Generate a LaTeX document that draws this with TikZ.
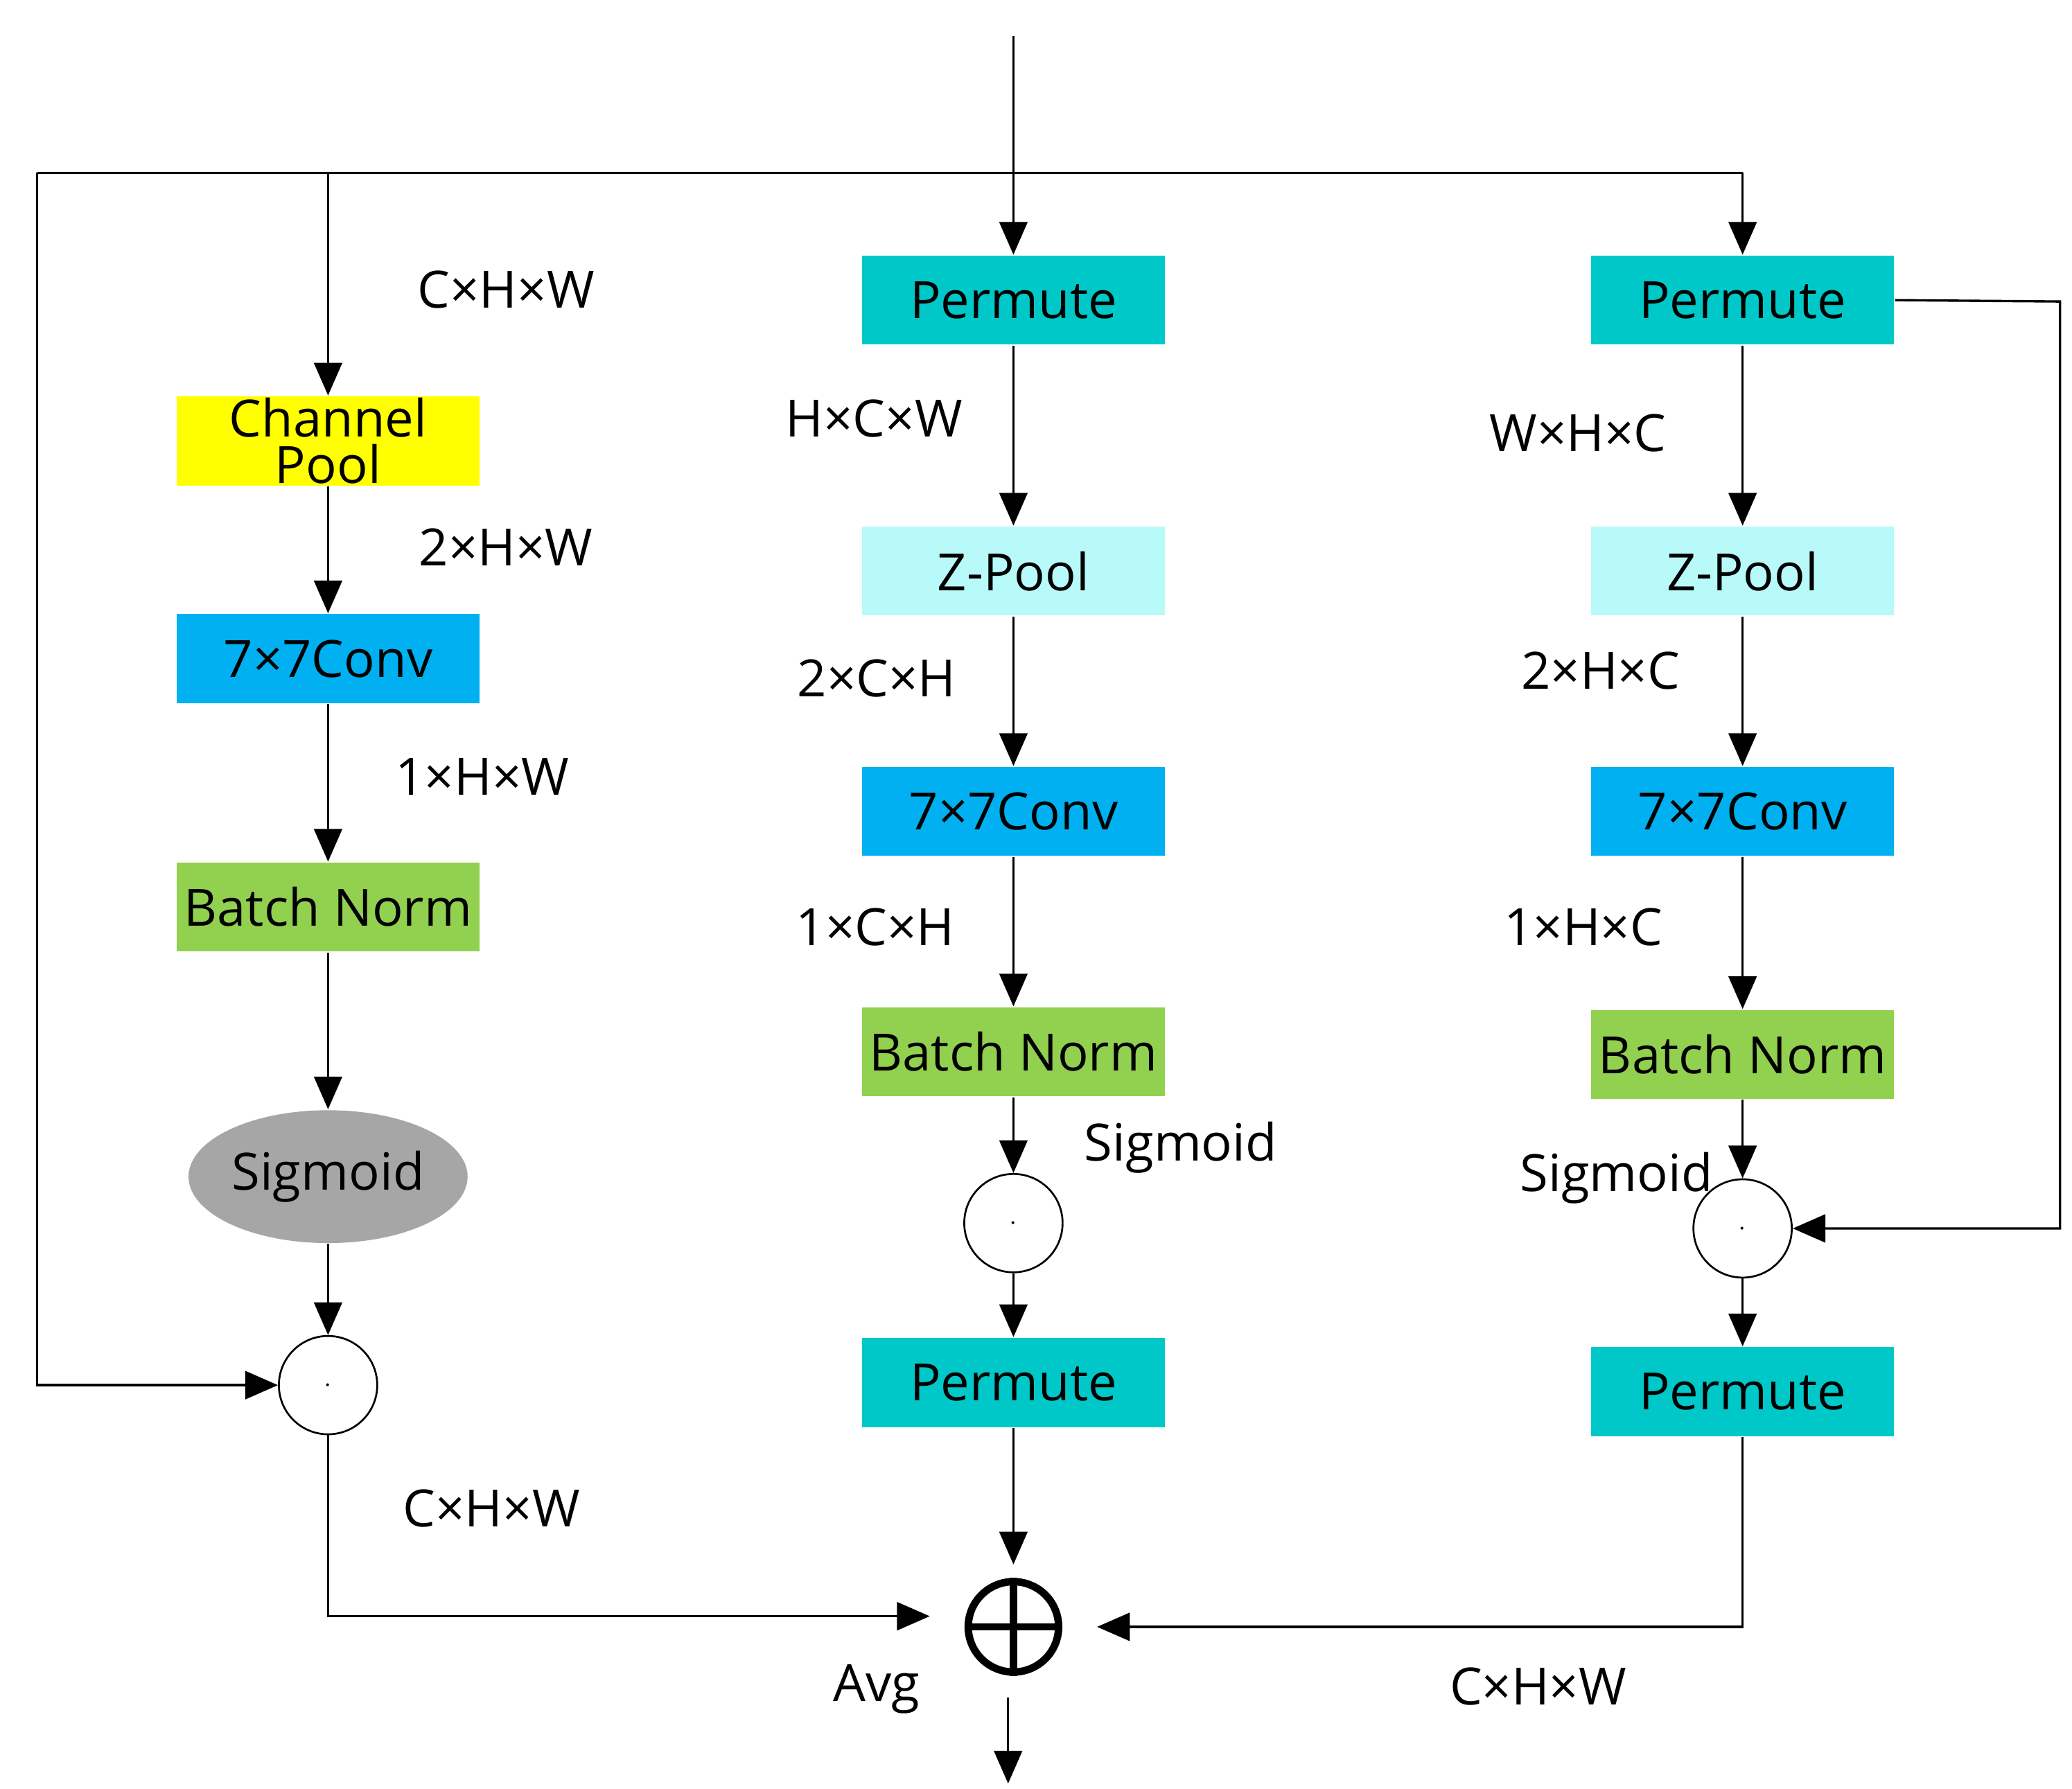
\documentclass[tikz,border=0pt]{standalone}
\usepackage{fontspec}
\setmainfont{Open Sans}
\usetikzlibrary{arrows.meta,shapes.geometric}
\definecolor{teal1}{HTML}{00C8C8}
\definecolor{zp}{HTML}{B8FAFA}
\definecolor{conv}{HTML}{00B0F0}
\definecolor{bn}{HTML}{92D050}
\definecolor{yel}{HTML}{FFFF00}
\definecolor{sg}{HTML}{A6A6A6}
\begin{document}
\begin{tikzpicture}[x=0.01cm,y=-0.01cm,
  box/.style={minimum width=2.28cm,minimum height=0.67cm,inner sep=0pt,font=\fontsize{11}{12}\selectfont},
  lbl/.style={font=\fontsize{11}{12}\selectfont},
  circ/.style={circle,draw,minimum size=0.74cm,inner sep=0pt},
  arr/.style={-{Triangle[length=7pt,width=6pt]},line width=0.5pt},
  ln/.style={line width=0.5pt}]
\useasboundingbox (0,0) rectangle (1560,1347);
% left
\node[box,fill=yel,align=center,text width=2.2cm] (cp) at (247,332) {Channel\\[-2pt]Pool};
\node[box,fill=conv] (c1) at (247,496) {7×7Conv};
\node[box,fill=bn] (b1) at (247,683) {Batch Norm};
\node[ellipse,fill=sg,minimum width=2.1cm,minimum height=1.0cm,inner sep=0pt,font=\fontsize{11}{12}\selectfont] (s1) at (247,886) {Sigmoid};
\node[circ] (m1) at (247,1043) {\tiny$\cdot$};
% middle
\node[box,fill=teal1] (p2) at (763,226) {Permute};
\node[box,fill=zp] (z2) at (763,430) {Z-Pool};
\node[box,fill=conv] (c2) at (763,611) {7×7Conv};
\node[box,fill=bn] (b2) at (763,792) {Batch Norm};
\node[circ] (m2) at (763,921) {\tiny$\cdot$};
\node[box,fill=teal1] (q2) at (763,1041) {Permute};
\node[circle,draw,line width=1.6pt,minimum size=0.68cm,inner sep=0pt] (sum) at (763,1225) {};
\draw[line width=1.6pt] (sum.north)--(sum.south) (sum.west)--(sum.east);
% right
\node[box,fill=teal1] (p3) at (1312,226) {Permute};
\node[box,fill=zp] (z3) at (1312,430) {Z-Pool};
\node[box,fill=conv] (c3) at (1312,611) {7×7Conv};
\node[box,fill=bn] (b3) at (1312,794) {Batch Norm};
\node[circ] (m3) at (1312,925) {\tiny$\cdot$};
\node[box,fill=teal1] (q3) at (1312,1048) {Permute};
% coordinates
\coordinate (top) at (763,27);
\coordinate (tl) at (28,130);
\coordinate (tr) at (1312,130);
\coordinate (tc) at (247,130);
\coordinate (out) at (759,1343);
\coordinate (outs) at (759,1278);
% connectors
\draw[arr] (top)--(p2);
\draw[ln] (tl)--(tr);
\draw[arr] (tc)--(cp);
\draw[arr] (tr)--(p3);
\draw[arr] (tl)--(28,1043)--(m1);
\draw[arr] (cp)--(c1);
\draw[arr] (c1)--(b1);
\draw[arr] (b1)--(s1);
\draw[arr] (s1)--(m1);
\draw[arr] (m1)--(247,1217)--(700,1217);
\draw[arr] (p2)--(z2);
\draw[arr] (z2)--(c2);
\draw[arr] (c2)--(b2);
\draw[arr] (b2)--(m2);
\draw[arr] (m2)--(q2);
\draw[arr] (q2)--(763,1178);
\draw[arr] (outs)--(out);
\draw[arr] (p3)--(z3);
\draw[arr] (z3)--(c3);
\draw[arr] (c3)--(b3);
\draw[arr] (b3)--(m3);
\draw[arr] (m3)--(q3);
\draw[arr] (p3.east)--(1551,227)--(1551,925)--(m3);
\draw[arr] (q3)--(1312,1225)--(826,1225);
% labels
\node[lbl] at (381,218) {C×H×W};
\node[lbl] at (381,412) {2×H×W};
\node[lbl] at (363,585) {1×H×W};
\node[lbl] at (370,1136) {C×H×W};
\node[lbl] at (658,315) {H×C×W};
\node[lbl] at (660,511) {2×C×H};
\node[lbl] at (659,698) {1×C×H};
\node[lbl] at (889,864) {Sigmoid};
\node[lbl] at (660,1272) {Avg};
\node[lbl] at (1188,326) {W×H×C};
\node[lbl] at (1205,505) {2×H×C};
\node[lbl] at (1192,698) {1×H×C};
\node[lbl] at (1217,887) {Sigmoid};
\node[lbl] at (1158,1270) {C×H×W};
\end{tikzpicture}
\end{document}
